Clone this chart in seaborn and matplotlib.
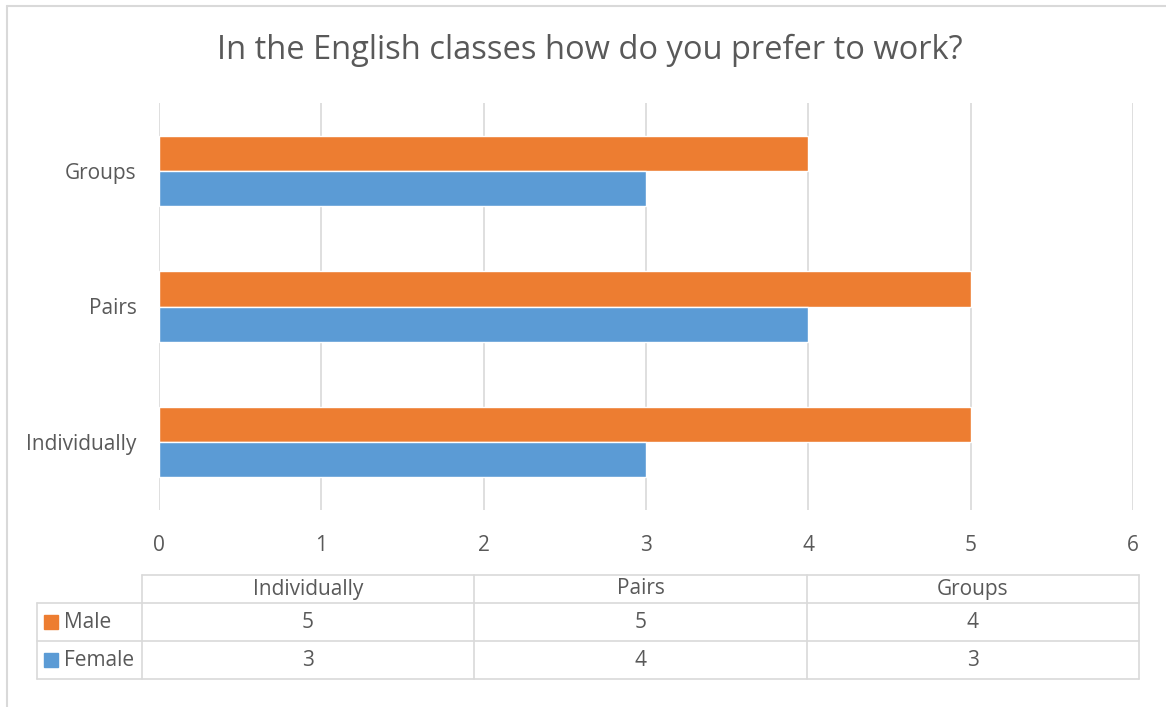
import matplotlib
matplotlib.use('Agg')
import matplotlib.pyplot as plt
import seaborn as sns
import pandas as pd
from matplotlib.patches import Rectangle
from matplotlib.lines import Line2D

categories = ['Individually', 'Pairs', 'Groups']
series = ['Male', 'Female']
male = [5, 5, 4]
female = [3, 4, 3]
x_ticks = [0, 1, 2, 3, 4, 5, 6]
colors = {'Male': '#ED7D31', 'Female': '#5B9BD5'}

df = pd.DataFrame({
    'category': categories * 2,
    'series': ['Male'] * 3 + ['Female'] * 3,
    'value': male + female,
})

sns.set_style('white')
plt.rcParams['font.family'] = ['Open Sans', 'DejaVu Sans']
txt = '#595959'
grid = '#D9D9D9'

W, H = 1166, 707
fig = plt.figure(figsize=(W / 100, H / 100), dpi=100)

def fx(px):
    return px / W

def fy(py):
    return 1 - py / H

# plot area
ax = fig.add_axes([fx(159), fy(510), fx(1133) - fx(159), fy(103) - fy(510)])
sns.barplot(data=df, x='value', y='category', hue='series', orient='h',
            order=categories[::-1], hue_order=series, palette=colors,
            width=0.52, saturation=1, ax=ax, legend=False)
ax.set_xlim(0, 6)
ax.set_ylim(2.5, -0.5)
ax.set_xticks(x_ticks)
ax.set_xticklabels([str(t) for t in x_ticks])
ax.xaxis.grid(True, color=grid, linewidth=1.2)
ax.set_axisbelow(True)
for s in ax.spines.values():
    s.set_visible(False)
ax.set_xlabel('')
ax.set_ylabel('')
ax.tick_params(axis='both', length=0, labelsize=15, colors=txt)
ax.tick_params(axis='x', pad=18)
ax.tick_params(axis='y', pad=16)

fig.text(fx(590), fy(50), 'In the English classes how do you prefer to work?',
         ha='center', va='center', fontsize=23.5, color=txt)

# data table below the chart
col_x = [142, 474, 807, 1139]
row_y = [575, 603, 641, 679]
lw = 1.2
lines = []
lines.append(([col_x[0], col_x[-1]], [row_y[0], row_y[0]]))
for y in row_y[1:]:
    lines.append(([37, col_x[-1]], [y, y]))
lines.append(([37, 37], [row_y[1], row_y[-1]]))
for x in col_x:
    lines.append(([x, x], [row_y[0], row_y[-1]]))
for xs, ys in lines:
    fig.add_artist(Line2D([fx(v) for v in xs], [fy(v) for v in ys],
                          color=grid, linewidth=lw))

for i, c in enumerate(categories):
    cx = (col_x[i] + col_x[i + 1]) / 2
    fig.text(fx(cx), fy((row_y[0] + row_y[1]) / 2), c, ha='center', va='center',
             fontsize=15, color=txt)
for r, (name, vals) in enumerate(zip(series, [male, female])):
    cy = (row_y[r + 1] + row_y[r + 2]) / 2
    fig.add_artist(Rectangle((fx(44), fy(cy + 7)), fx(14), fy(cy - 7) - fy(cy + 7),
                             color=colors[name], transform=fig.transFigure))
    fig.text(fx(64), fy(cy), name, ha='left', va='center', fontsize=15, color=txt)
    for i, v in enumerate(vals):
        cx = (col_x[i] + col_x[i + 1]) / 2
        fig.text(fx(cx), fy(cy), str(v), ha='center', va='center',
                 fontsize=15, color=txt)

# chart border (only top and left edges fall inside the picture)
fig.add_artist(Line2D([fx(7), fx(7)], [fy(6), 0], color=grid, linewidth=1.5))
fig.add_artist(Line2D([fx(7), 1], [fy(6), fy(6)], color=grid, linewidth=1.5))

fig.savefig('out.png', dpi=100)
